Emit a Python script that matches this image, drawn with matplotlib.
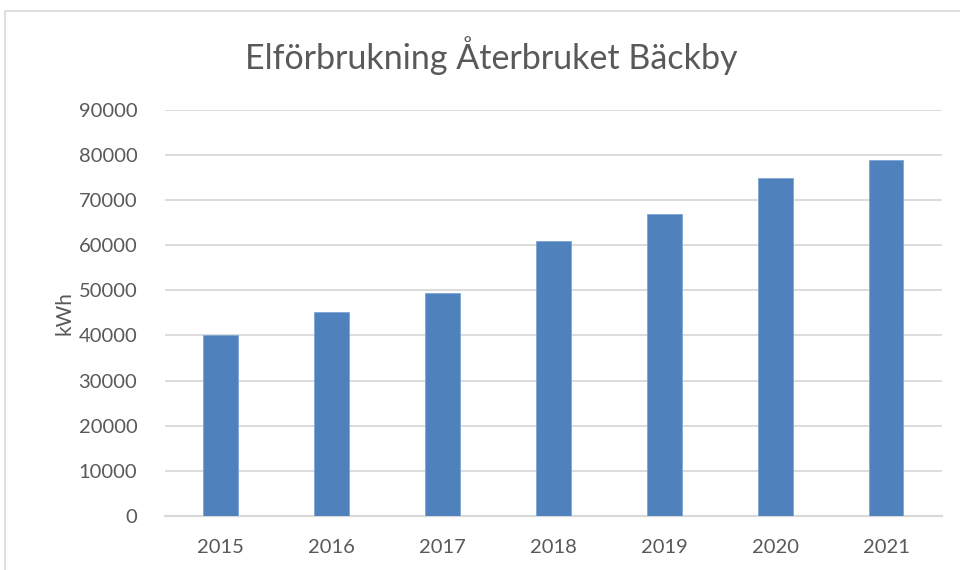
import matplotlib
matplotlib.use("Agg")
from matplotlib import pyplot as plt
from matplotlib.patches import Rectangle
import numpy as np

# data
years = ['2015', '2016', '2017', '2018', '2019', '2020', '2021']
kwh = [40200, 45250, 49500, 61000, 66900, 75000, 78950]
yticks = [0, 10000, 20000, 30000, 40000, 50000, 60000, 70000, 80000, 90000]

plt.rcParams['font.family'] = ['Lato', 'DejaVu Sans']
textfarg = '#595959'

fig = plt.figure(figsize=(9.6, 5.7), dpi=100)
ax = fig.add_axes([0.172, 0.095, 0.809, 0.712])

x = np.arange(len(years))
ax.bar(x, kwh, width=0.31, color='#4f81bd', edgecolor='#7ea4d6', linewidth=0.6, zorder=3)

ax.set_xlim(-0.5, len(years) - 0.5)
ax.set_ylim(0, 90000)
ax.set_yticks(yticks)
ax.set_yticklabels([str(v) for v in yticks])
ax.set_xticks(x)
ax.set_xticklabels(years)
ax.tick_params(axis='both', length=0, labelsize=14.5, colors=textfarg)
ax.tick_params(axis='y', pad=20)
ax.tick_params(axis='x', pad=17)

ax.grid(axis='y', color='#d9d9d9', linewidth=1.3, zorder=0)
for s in ['top', 'right', 'left']:
    ax.spines[s].set_visible(False)
ax.spines['bottom'].set_color('#d9d9d9')
ax.spines['bottom'].set_linewidth(1.6)

ax.set_ylabel('kWh', fontsize=15, color=textfarg, labelpad=3)
fig.text(0.512, 0.903, 'Elförbrukning Återbruket Bäckby', ha='center', va='center',
         fontsize=24.5, color=textfarg)

# outer chart border
fig.patches.append(Rectangle((5 / 960, -0.05), 1.1, 1 - 11 / 570 + 0.05,
                             transform=fig.transFigure, fill=False,
                             edgecolor='#d9d9d9', linewidth=1.2))

fig.savefig('out.png', dpi=100)
